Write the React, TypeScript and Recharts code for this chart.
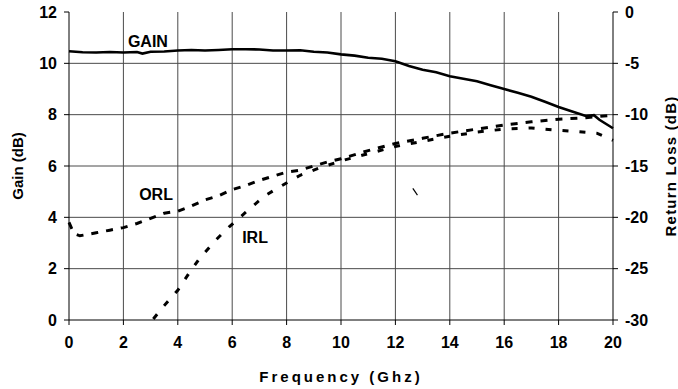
import React from "react";
import { ComposedChart, Line, XAxis, YAxis, CartesianGrid, ReferenceDot, Label } from "recharts";

const FONT = "Arial, 'Liberation Sans', sans-serif";

// axis ticks
const freqTicks = [0, 2, 4, 6, 8, 10, 12, 14, 16, 18, 20];
const gainTicks = [0, 2, 4, 6, 8, 10, 12];
const rlTicks = [-30, -25, -20, -15, -10, -5, 0];

// GAIN (dB), left axis
const gainFreq = [0, 0.5, 1, 1.5, 2, 2.5, 2.7, 3, 3.5, 4, 4.5, 5, 5.5, 6, 6.5, 7, 7.5, 8, 8.5, 9, 9.5, 10, 10.5, 11, 11.5, 12, 12.5, 13, 13.5, 14, 14.5, 15, 15.5, 16, 16.5, 17, 17.5, 18, 18.5, 19, 19.3, 19.5, 20];
const gainDb = [10.47, 10.43, 10.42, 10.44, 10.42, 10.44, 10.38, 10.45, 10.46, 10.5, 10.52, 10.5, 10.52, 10.55, 10.55, 10.54, 10.5, 10.5, 10.51, 10.45, 10.42, 10.35, 10.3, 10.22, 10.18, 10.08, 9.9, 9.75, 9.65, 9.5, 9.4, 9.3, 9.15, 9.0, 8.85, 8.7, 8.5, 8.3, 8.12, 7.95, 7.98, 7.8, 7.47];

// ORL (dB), right axis
const orlFreq = [0, 0.1, 0.2, 0.4, 0.6, 1, 1.5, 2, 2.5, 3, 3.5, 4, 4.5, 5, 5.5, 6, 6.5, 7, 7.5, 8, 8.5, 9, 9.5, 10, 11, 12, 13, 14, 15, 16, 17, 18, 19, 20];
const orlDb = [-20.5, -21.1, -21.6, -21.8, -21.7, -21.5, -21.25, -21.0, -20.6, -20.1, -19.6, -19.4, -18.9, -18.3, -17.9, -17.3, -16.9, -16.4, -16.0, -15.6, -15.4, -15.0, -14.6, -14.3, -13.5, -12.8, -12.3, -11.8, -11.4, -11.0, -10.7, -10.45, -10.3, -10.05];

// IRL (dB), right axis
const irlFreq = [3.1, 3.5, 4.0, 4.4, 4.8, 5.4, 5.9, 6.5, 7.2, 7.9, 8.5, 9.2, 10, 11, 12, 13, 14, 15, 16, 17, 17.9, 18.7, 19.4, 20];
const irlDb = [-29.9, -28.6, -27.1, -25.5, -24.0, -22.2, -20.9, -19.5, -17.9, -16.8, -15.9, -15.2, -14.5, -13.8, -13.1, -12.6, -12.1, -11.7, -11.4, -11.3, -11.5, -11.65, -11.8, -12.5];

// small stray trace near 12.7 GHz
const strayFreq = [12.64, 12.81];
const strayDb = [-17.18, -17.83];

const toRows = (xs: number[], ys: number[]) => xs.map((f, i) => ({ f, v: ys[i] }));

const gainData = toRows(gainFreq, gainDb);
const orlData = toRows(orlFreq, orlDb);
const irlData = toRows(irlFreq, irlDb);
const strayData = toRows(strayFreq, strayDb);

const tickStyle = { fill: "#000", fontSize: 16, fontWeight: 700, fontFamily: FONT };
const titleStyle = { fill: "#000", fontSize: 15, fontWeight: 700, fontFamily: FONT };
const noteStyle = { fill: "#000", fontSize: 16, fontWeight: 700, fontFamily: FONT };

export default function App() {
  return (
    <div style={{ position: "absolute", left: 0, top: 0, width: 678, height: 389, background: "#fff" }}>
      <ComposedChart width={678} height={389} margin={{ top: 12, right: 0, bottom: 0, left: 0 }}>
        <CartesianGrid
          yAxisId="left"
          stroke="#4a4a4a"
          horizontalValues={[2, 4, 6, 8, 10]}
          verticalValues={[2, 4, 6, 8, 10, 12, 14, 16, 18]}
        />
        <XAxis
          dataKey="f"
          type="number"
          domain={[0, 20]}
          ticks={freqTicks}
          height={69}
          tickSize={5}
          tickMargin={12}
          axisLine={{ stroke: "#000" }}
          tickLine={{ stroke: "#000" }}
          tick={tickStyle}
        >
          <Label value="Frequency (Ghz)" position="insideBottom" offset={7} style={{ ...titleStyle, letterSpacing: 3 }} />
        </XAxis>
        <YAxis
          yAxisId="left"
          domain={[0, 12]}
          ticks={gainTicks}
          width={69}
          tickSize={5}
          tickMargin={7}
          axisLine={{ stroke: "#000" }}
          tickLine={{ stroke: "#000" }}
          tick={tickStyle}
        >
          <Label value="Gain (dB)" angle={-90} position="insideLeft" offset={18} style={{ ...titleStyle, textAnchor: "middle" }} />
        </YAxis>
        <YAxis
          yAxisId="right"
          orientation="right"
          domain={[-30, 0]}
          ticks={rlTicks}
          width={65}
          tickSize={5}
          tickMargin={7}
          axisLine={{ stroke: "#000" }}
          tickLine={{ stroke: "#000" }}
          tick={{ ...tickStyle, textAnchor: "start" }}
        >
          <Label value="Return Loss (dB)" angle={-90} position="insideRight" offset={7} style={{ ...titleStyle, letterSpacing: 1.2, textAnchor: "middle" }} />
        </YAxis>

        <Line yAxisId="left" data={gainData} dataKey="v" type="linear" stroke="#000" strokeWidth={2.6} dot={false} isAnimationActive={false} />
        <Line yAxisId="right" data={orlData} dataKey="v" type="linear" stroke="#000" strokeWidth={3} strokeDasharray="7 8" dot={false} isAnimationActive={false} />
        <Line yAxisId="right" data={irlData} dataKey="v" type="linear" stroke="#000" strokeWidth={3} strokeDasharray="6 11" dot={false} isAnimationActive={false} />
        <Line yAxisId="right" data={strayData} dataKey="v" type="linear" stroke="#000" strokeWidth={1.2} dot={false} isAnimationActive={false} />

        <ReferenceDot yAxisId="left" x={2.9} y={10.87} r={0} fill="none" stroke="none" label={{ value: "GAIN", position: "center", ...noteStyle }} />
        <ReferenceDot yAxisId="left" x={3.2} y={4.91} r={0} fill="none" stroke="none" label={{ value: "ORL", position: "center", ...noteStyle }} />
        <ReferenceDot yAxisId="left" x={6.84} y={3.23} r={0} fill="none" stroke="none" label={{ value: "IRL", position: "center", ...noteStyle }} />
      </ComposedChart>
    </div>
  );
}
